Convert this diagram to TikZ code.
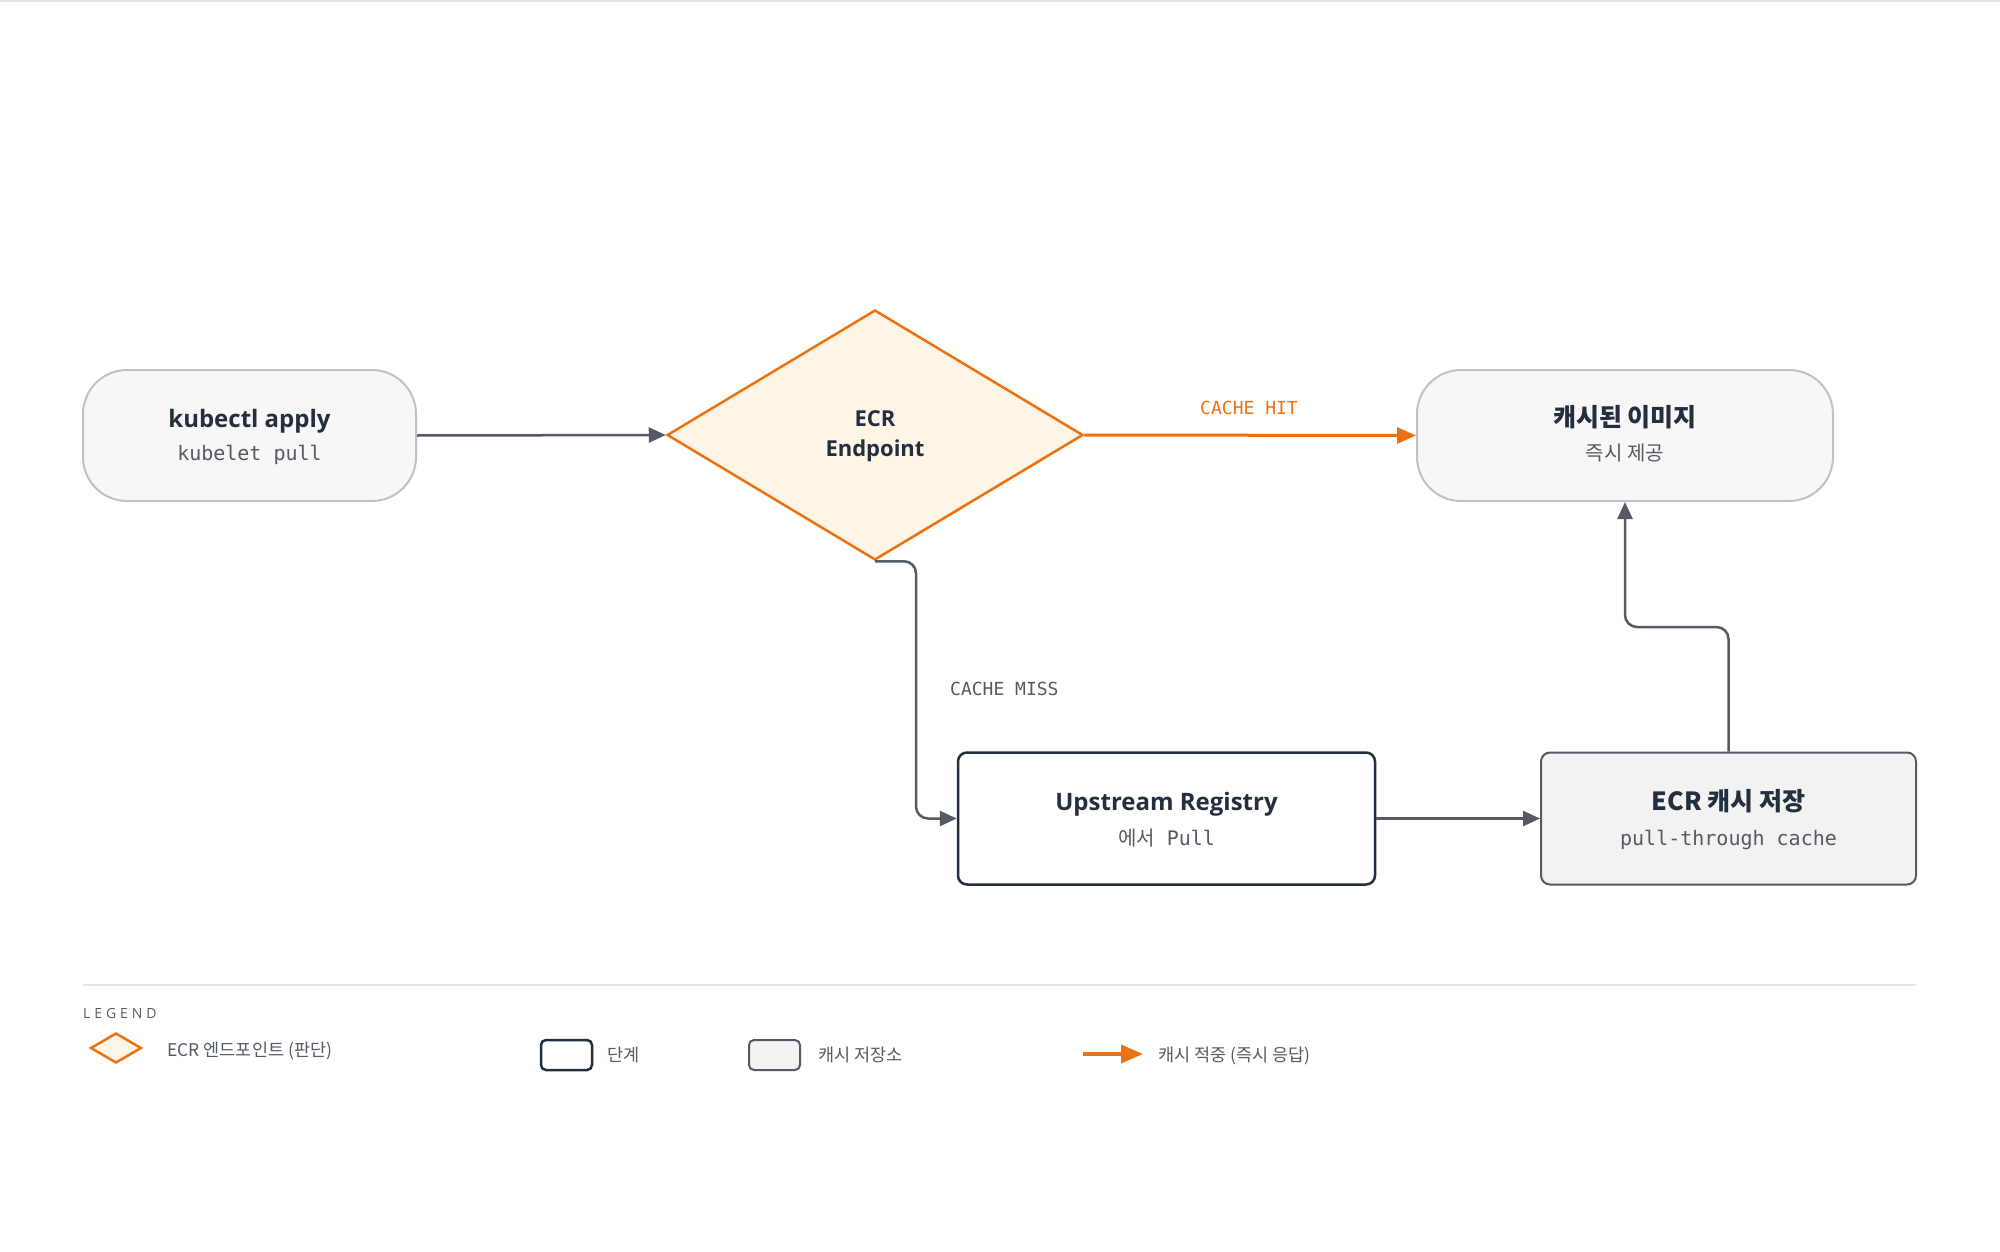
\documentclass[tikz,border=0pt]{standalone}
\usepackage{fontspec}
\setmainfont{Open Sans}
\setmonofont{DejaVu Sans Mono}
\newfontfamily\cjk{Noto Sans CJK KR}
\usetikzlibrary{arrows.meta,shapes.geometric,calc}
\definecolor{navy}{HTML}{232F3E}
\definecolor{subgray}{HTML}{545B64}
\definecolor{arrowgray}{HTML}{545B64}
\definecolor{awsorange}{HTML}{EC7211}
\definecolor{diafill}{HTML}{FEF5E6}
\definecolor{pillfill}{HTML}{F7F7F7}
\definecolor{pillline}{HTML}{BFC2C7}
\definecolor{cachefill}{HTML}{F2F2F2}
\definecolor{sepline}{HTML}{E6E6E6}
\newcommand{\titlef}{\fontsize{24}{28}\selectfont\bfseries\color{navy}}
\newcommand{\titlek}{\fontsize{25}{29}\selectfont\cjk\bfseries\color{navy}}
\newcommand{\subf}{\fontsize{20}{24}\selectfont\ttfamily\color{subgray}}
\newcommand{\subk}{\fontsize{20}{24}\selectfont\cjk\color{subgray}}
\newcommand{\lblf}{\fontsize{18}{22}\selectfont\ttfamily}
\newcommand{\legf}{\fontsize{17.5}{20}\selectfont\cjk\color{subgray}}
\tikzset{
  pill/.style={draw=pillline, fill=pillfill, line width=2pt, rounded corners=44pt, minimum height=131pt, inner sep=0pt},
  stepbox/.style={draw=navy, fill=white, line width=2.5pt, rounded corners=9pt, minimum width=417pt, minimum height=132pt, inner sep=0pt},
  storebox/.style={draw=arrowgray, fill=cachefill, line width=2pt, rounded corners=9pt, minimum width=375pt, minimum height=132pt, inner sep=0pt},
  decide/.style={diamond, draw=awsorange, fill=diafill, line width=2.5pt, minimum width=416pt, minimum height=250pt, inner sep=0pt},
  txt/.style={anchor=base, inner sep=0pt},
  ltxt/.style={anchor=base west, inner sep=0pt},
  conn/.style={draw=arrowgray, line width=2.5pt, -{Triangle[length=17pt,width=15pt]}},
  hitconn/.style={draw=awsorange, line width=3pt, -{Triangle[length=19pt,width=16pt]}},
}
\begin{document}
\begin{tikzpicture}[x=1pt,y=-1pt]
\useasboundingbox (0,0) rectangle (2000,1252);
\fill[white] (0,0) rectangle (2000,1252);
\fill[sepline] (0,0) rectangle (2000,2);

% main nodes
\node[pill, minimum width=333pt] (kub) at (249.5,435.5) {};
\node[decide] (ecr) at (875,435) {};
\node[pill, minimum width=416pt] (cached) at (1625,435.5) {};
\node[stepbox] (up) at (1166.5,818.5) {};
\node[storebox] (cache) at (1728.5,818.5) {};

% texts
\node[txt] (kubT) at (249.5,427) {\titlef kubectl apply};
\node[txt] (kubS) at (249.5,460) {\subf kubelet pull};
\node[txt] (ecrT1) at (875,426) {\fontsize{22}{26}\selectfont\bfseries\color{navy}ECR};
\node[txt] (ecrT2) at (875,456) {\fontsize{22}{26}\selectfont\bfseries\color{navy}Endpoint};
\node[txt] (cachedT) at (1625,426) {\titlek 캐시된 이미지};
\node[txt] (cachedS) at (1625,460) {\subk 즉시 제공};
\node[txt] (upT) at (1166.5,810) {\titlef Upstream Registry};
\node[txt] (upS) at (1166.5,845) {{\subk 에서}{\subf\ Pull}};
\node[txt] (cacheT) at (1728.5,810) {\titlek ECR 캐시 저장};
\node[txt] (cacheS) at (1728.5,845) {\subf pull-through cache};

% connectors
\coordinate (m1) at (916,700);
\coordinate (m2) at (1680,627);
\draw[conn] (kub.east) -- (ecr.west);
\draw[hitconn] (ecr.east) -- (cached.west);
\node[txt] (hitL) at (1249,414.5) {\lblf\color{awsorange}CACHE HIT};
\draw[conn, rounded corners=12pt] (ecr.south) -| (m1) |- (up.west);
\node[ltxt] (missL) at (950,695.5) {\lblf\color{subgray}CACHE MISS};
\draw[conn] (up.east) -- (cache.west);
\draw[conn, rounded corners=12pt] (cache.north) |- (m2) -| (cached.south);

% legend
\coordinate (s1) at (83,985);
\coordinate (s2) at (1916,985);
\draw[sepline, line width=2pt] (s1) -- (s2);
\node[ltxt] (legT) at (83,1018) {\fontsize{14}{16}\selectfont\addfontfeatures{LetterSpace=28}\color{subgray}LEGEND};
\node[diamond, draw=awsorange, fill=diafill, line width=2.5pt, minimum width=51pt, minimum height=30pt, inner sep=0pt] (lg1) at (116,1048) {};
\node[ltxt] (lg1t) at (167,1056.5) {\legf ECR 엔드포인트 (판단)};
\node[draw=navy, fill=white, line width=2.5pt, rounded corners=5pt, minimum width=51pt, minimum height=30pt, inner sep=0pt] (lg2) at (566.5,1055) {};
\node[ltxt] (lg2t) at (607,1061) {\legf 단계};
\node[draw=arrowgray, fill=cachefill, line width=2pt, rounded corners=5pt, minimum width=51pt, minimum height=30pt, inner sep=0pt] (lg3) at (774.5,1055) {};
\node[ltxt] (lg3t) at (818,1061) {\legf 캐시 저장소};
\coordinate (la1) at (1083,1054);
\coordinate (la2) at (1143,1054);
\draw[draw=awsorange, line width=3.5pt, -{Triangle[length=22pt,width=18pt]}] (la1) -- (la2);
\node[ltxt] (lg4t) at (1158,1061) {\legf 캐시 적중 (즉시 응답)};
\end{tikzpicture}
\end{document}
